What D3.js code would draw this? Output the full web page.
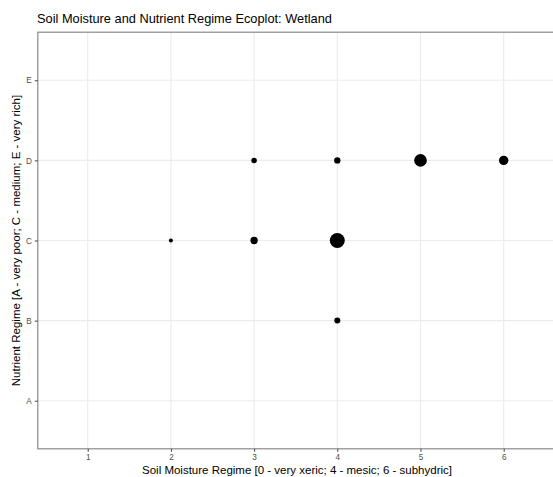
<!DOCTYPE html>
<html><head><meta charset="utf-8">
<script src="https://cdn.jsdelivr.net/npm/d3@7"></script>
<style>body{margin:0;background:#fff;} text{font-family:"Liberation Sans",Arial,sans-serif;}</style>
</head><body>
<svg id="c" width="553" height="477"></svg>
<script>
const moisture = [2, 3, 3, 4, 4, 4, 5, 6];
const nutrient = ["C", "D", "C", "D", "C", "B", "D", "D"];
const abundance = [4, 7.5, 13.5, 10, 56, 9, 40, 22];
const xTicks = [1, 2, 3, 4, 5, 6];
const yCats = ["A", "B", "C", "D", "E"];

const W = 553, H = 477;
const m = {l: 37.8, r: 553.6, t: 32.2, b: 448.8};
const svg = d3.select("#c");
const x = d3.scaleLinear().domain([0.4, 6.6]).range([m.l, m.r]);
const yIdx = d3.scaleLinear().domain([0.4, 5.6]).range([m.b, m.t]);
const y = c => yIdx(yCats.indexOf(c) + 1);
const r = d3.scaleSqrt().domain([0, 56]).range([0, 7.5]);

const g = svg.append("g");
// grid
g.selectAll(".gx").data(xTicks).join("line")
  .attr("x1", d => x(d)).attr("x2", d => x(d)).attr("y1", m.t).attr("y2", m.b)
  .attr("stroke", "#ebebeb").attr("stroke-width", 1.1);
g.selectAll(".gy").data(yCats).join("line")
  .attr("y1", d => y(d)).attr("y2", d => y(d)).attr("x1", m.l).attr("x2", m.r)
  .attr("stroke", "#ebebeb").attr("stroke-width", 1.1);

// points
const pts = moisture.map((d, i) => ({x: d, y: nutrient[i], v: abundance[i]}));
g.selectAll("circle").data(pts).join("circle")
  .attr("cx", d => x(d.x)).attr("cy", d => y(d.y)).attr("r", d => r(d.v))
  .attr("fill", "#000");

// border
svg.append("rect").attr("x", m.l).attr("y", m.t).attr("width", m.r - m.l).attr("height", m.b - m.t)
  .attr("fill", "none").attr("stroke", "#8a8a8a").attr("stroke-width", 1.2);

// axes
const xAxis = d3.axisBottom(x).tickValues(xTicks).tickSize(3).tickPadding(2).tickFormat(d3.format("d"));
const xa = svg.append("g").attr("transform", `translate(0,${m.b})`).call(xAxis);
xa.select(".domain").remove();
xa.selectAll("line").attr("stroke", "#444");
xa.selectAll("text").attr("fill", "#4d4d4d").style("font-size", "8.2px");

const yAxis = d3.axisLeft(d3.scalePoint().domain(yCats.slice().reverse()).range([yIdx(5), yIdx(1)])).tickSize(3).tickPadding(3);
const ya = svg.append("g").attr("transform", `translate(${m.l},0)`).call(yAxis);
ya.select(".domain").remove();
ya.selectAll("line").attr("stroke", "#444");
ya.selectAll("text").attr("fill", "#4d4d4d").style("font-size", "8.2px");

// titles
svg.append("text").attr("x", 37).attr("y", 23).text("Soil Moisture and Nutrient Regime Ecoplot: Wetland")
  .style("font-size", "12.8px").attr("fill", "#000");
svg.append("text").attr("x", 297).attr("y", 473.5).attr("text-anchor", "middle")
  .text("Soil Moisture Regime [0 - very xeric; 4 - mesic; 6 - subhydric]").style("font-size", "11.5px").attr("fill", "#000");
svg.append("text").attr("transform", `translate(19.5,${(m.t + m.b) / 2}) rotate(-90)`).attr("text-anchor", "middle")
  .text("Nutrient Regime [A - very poor; C - medium; E - very rich]").style("font-size", "11.5px").attr("fill", "#000");
</script>
</body></html>
